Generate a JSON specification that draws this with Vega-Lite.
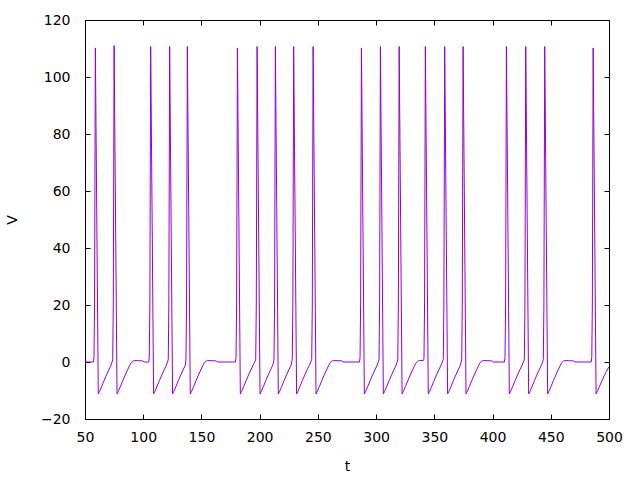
{
"$schema": "https://vega.github.io/schema/vega-lite/v6.json",
"width": 524, "height": 399,
"autosize": {"type": "none"},
"padding": {"left": 85, "top": 20, "right": 31, "bottom": 61},
"background": "white",
"config": {
 "view": {"stroke": "black", "strokeWidth": 1},
 "axis": {"domain": false, "grid": false, "tickColor": "black", "tickSize": -5, "tickWidth": 1, "labelFlush": false,
  "labelFont": "DejaVu Sans", "labelFontSize": 14, "labelColor": "black",
  "titleFont": "DejaVu Sans", "titleFontSize": 14, "titleFontWeight": "normal", "titleColor": "black"}
},
"data": {"values": [
{"t":50,"V":0},{"t":57.2,"V":0},
{"t":57.7,"V":1.5},{"t":58.2,"V":20},{"t":58.9,"V":110.2},{"t":61.4,"V":-11.2},{"t":62.4,"V":-10.4},{"t":64.4,"V":-8.5},{"t":66.4,"V":-6.5},{"t":68.4,"V":-4.6},{"t":70.4,"V":-2.8},{"t":72.4,"V":-1.1},
{"t":73.8,"V":0.8},{"t":74.3,"V":20},{"t":75.0,"V":111},{"t":77.5,"V":-11.2},{"t":78.5,"V":-10.4},{"t":80.5,"V":-8.5},{"t":82.5,"V":-6.5},{"t":84.5,"V":-4.6},{"t":86.5,"V":-2.8},{"t":88.5,"V":-1.1},{"t":89.5,"V":-0.3},{"t":91.0,"V":0.3},{"t":92.5,"V":0.5},{"t":99.5,"V":0.4},{"t":101.0,"V":0},{"t":104.7,"V":0},
{"t":105.2,"V":1.5},{"t":105.7,"V":20},{"t":106.4,"V":110.7},{"t":108.9,"V":-11.2},{"t":109.9,"V":-10.4},{"t":111.9,"V":-8.5},{"t":113.9,"V":-6.5},{"t":115.9,"V":-4.6},{"t":117.9,"V":-2.8},{"t":119.9,"V":-1.1},
{"t":121.5,"V":0.8},{"t":122.0,"V":20},{"t":122.7,"V":110.7},{"t":125.2,"V":-11.2},{"t":126.2,"V":-10.4},{"t":128.2,"V":-8.5},{"t":130.2,"V":-6.5},{"t":132.2,"V":-4.6},{"t":134.2,"V":-2.8},{"t":136.2,"V":-1.1},
{"t":136.7,"V":0.8},{"t":137.2,"V":20},{"t":137.9,"V":110.7},{"t":140.4,"V":-11.2},{"t":141.4,"V":-10.4},{"t":143.4,"V":-8.5},{"t":145.4,"V":-6.5},{"t":147.4,"V":-4.6},{"t":149.4,"V":-2.8},{"t":151.4,"V":-1.1},{"t":152.4,"V":-0.3},{"t":153.9,"V":0.3},{"t":155.4,"V":0.5},{"t":162.4,"V":0.4},{"t":163.9,"V":0},{"t":179.2,"V":0},
{"t":179.7,"V":1.5},{"t":180.2,"V":20},{"t":180.9,"V":110.2},{"t":183.4,"V":-11.2},{"t":184.4,"V":-10.4},{"t":186.4,"V":-8.5},{"t":188.4,"V":-6.5},{"t":190.4,"V":-4.6},{"t":192.4,"V":-2.8},{"t":194.4,"V":-1.1},
{"t":196.6,"V":0.8},{"t":197.1,"V":20},{"t":197.8,"V":110.7},{"t":200.3,"V":-11.2},{"t":201.3,"V":-10.4},{"t":203.3,"V":-8.5},{"t":205.3,"V":-6.5},{"t":207.3,"V":-4.6},{"t":209.3,"V":-2.8},{"t":211.3,"V":-1.1},
{"t":212.3,"V":0.8},{"t":212.8,"V":20},{"t":213.5,"V":110.7},{"t":216.0,"V":-11.2},{"t":217.0,"V":-10.4},{"t":219.0,"V":-8.5},{"t":221.0,"V":-6.5},{"t":223.0,"V":-4.6},{"t":225.0,"V":-2.8},{"t":227.0,"V":-1.1},
{"t":228.0,"V":0.8},{"t":228.5,"V":20},{"t":229.2,"V":110.7},{"t":231.7,"V":-11.2},{"t":232.7,"V":-10.4},{"t":234.7,"V":-8.5},{"t":236.7,"V":-6.5},{"t":238.7,"V":-4.6},{"t":240.7,"V":-2.8},{"t":242.7,"V":-1.1},
{"t":244.7,"V":0.8},{"t":245.2,"V":20},{"t":245.9,"V":110.7},{"t":248.4,"V":-11.2},{"t":249.4,"V":-10.4},{"t":251.4,"V":-8.5},{"t":253.4,"V":-6.5},{"t":255.4,"V":-4.6},{"t":257.4,"V":-2.8},{"t":259.4,"V":-1.1},{"t":260.4,"V":-0.3},{"t":261.9,"V":0.3},{"t":263.4,"V":0.5},{"t":270.4,"V":0.4},{"t":271.9,"V":0},{"t":285.7,"V":0},
{"t":286.2,"V":1.5},{"t":286.7,"V":20},{"t":287.4,"V":110.2},{"t":289.9,"V":-11.2},{"t":290.9,"V":-10.4},{"t":292.9,"V":-8.5},{"t":294.9,"V":-6.5},{"t":296.9,"V":-4.6},{"t":298.9,"V":-2.8},{"t":300.9,"V":-1.1},
{"t":302.5,"V":0.8},{"t":303.0,"V":20},{"t":303.7,"V":110.7},{"t":306.2,"V":-11.2},{"t":307.2,"V":-10.4},{"t":309.2,"V":-8.5},{"t":311.2,"V":-6.5},{"t":313.2,"V":-4.6},{"t":315.2,"V":-2.8},{"t":317.2,"V":-1.1},
{"t":318.6,"V":0.8},{"t":319.1,"V":20},{"t":319.8,"V":110.7},{"t":322.3,"V":-11.2},{"t":323.3,"V":-10.4},{"t":325.3,"V":-8.5},{"t":327.3,"V":-6.5},{"t":329.3,"V":-4.6},{"t":331.3,"V":-2.8},{"t":333.3,"V":-1.1},{"t":334.3,"V":-0.3},{"t":335.8,"V":0.3},{"t":337.3,"V":0.5},{"t":340.6,"V":0.5},
{"t":341.1,"V":1.2},{"t":341.6,"V":20},{"t":342.3,"V":110.7},{"t":344.8,"V":-11.2},{"t":345.8,"V":-10.4},{"t":347.8,"V":-8.5},{"t":349.8,"V":-6.5},{"t":351.8,"V":-4.6},{"t":353.8,"V":-2.8},{"t":355.8,"V":-1.1},
{"t":357.7,"V":0.8},{"t":358.2,"V":20},{"t":358.9,"V":110.7},{"t":361.4,"V":-11.2},{"t":362.4,"V":-10.4},{"t":364.4,"V":-8.5},{"t":366.4,"V":-6.5},{"t":368.4,"V":-4.6},{"t":370.4,"V":-2.8},{"t":372.4,"V":-1.1},
{"t":373.5,"V":0.8},{"t":374.0,"V":20},{"t":374.7,"V":110.7},{"t":377.2,"V":-11.2},{"t":378.2,"V":-10.4},{"t":380.2,"V":-8.5},{"t":382.2,"V":-6.5},{"t":384.2,"V":-4.6},{"t":386.2,"V":-2.8},{"t":388.2,"V":-1.1},{"t":389.2,"V":-0.3},{"t":390.7,"V":0.3},{"t":392.2,"V":0.5},{"t":399.2,"V":0.4},{"t":400.7,"V":0},{"t":410.2,"V":0},
{"t":410.7,"V":1.5},{"t":411.2,"V":20},{"t":411.9,"V":110.7},{"t":414.4,"V":-11.2},{"t":415.4,"V":-10.4},{"t":417.4,"V":-8.5},{"t":419.4,"V":-6.5},{"t":421.4,"V":-4.6},{"t":423.4,"V":-2.8},{"t":425.4,"V":-1.1},
{"t":427.3,"V":0.8},{"t":427.8,"V":20},{"t":428.5,"V":110.7},{"t":431.0,"V":-11.2},{"t":432.0,"V":-10.4},{"t":434.0,"V":-8.5},{"t":436.0,"V":-6.5},{"t":438.0,"V":-4.6},{"t":440.0,"V":-2.8},{"t":442.0,"V":-1.1},
{"t":443.6,"V":0.8},{"t":444.1,"V":20},{"t":444.8,"V":110.7},{"t":447.3,"V":-11.2},{"t":448.3,"V":-10.4},{"t":450.3,"V":-8.5},{"t":452.3,"V":-6.5},{"t":454.3,"V":-4.6},{"t":456.3,"V":-2.8},{"t":458.3,"V":-1.1},{"t":459.3,"V":-0.3},{"t":460.8,"V":0.3},{"t":462.3,"V":0.5},{"t":469.3,"V":0.4},{"t":470.8,"V":0},{"t":484.7,"V":0},
{"t":485.2,"V":1.5},{"t":485.7,"V":20},{"t":486.4,"V":110.2},{"t":488.9,"V":-11.2},{"t":489.9,"V":-10.4},{"t":491.9,"V":-8.5},{"t":493.9,"V":-6.6},{"t":495.9,"V":-4.8},{"t":497.9,"V":-3.2},{"t":500,"V":-1.7}
]},
"layer": [
 {"mark": {"type": "line", "color": "#9400D3", "strokeWidth": 1},
  "encoding": {
   "x": {"field": "t", "type": "quantitative", "scale": {"domain": [50, 500], "nice": false, "zero": false},
    "axis": {"values": [50,100,150,200,250,300,350,400,450,500], "labelPadding": 16, "title": "t", "titlePadding": 15}},
   "y": {"field": "V", "type": "quantitative", "scale": {"domain": [-20, 120], "nice": false, "zero": false},
    "axis": {"values": [-20,0,20,40,60,80,100,120], "labelPadding": 20, "title": "V", "titlePadding": 21}}
  }},
 {"mark": {"type": "line", "opacity": 0},
  "encoding": {
   "x": {"field": "t", "type": "quantitative", "axis": {"orient": "top", "values": [50,100,150,200,250,300,350,400,450,500], "labels": false, "title": null}},
   "y": {"field": "V", "type": "quantitative", "axis": {"orient": "right", "values": [-20,0,20,40,60,80,100,120], "labels": false, "title": null}}
  }}
],
"resolve": {"axis": {"x": "independent", "y": "independent"}}
}
